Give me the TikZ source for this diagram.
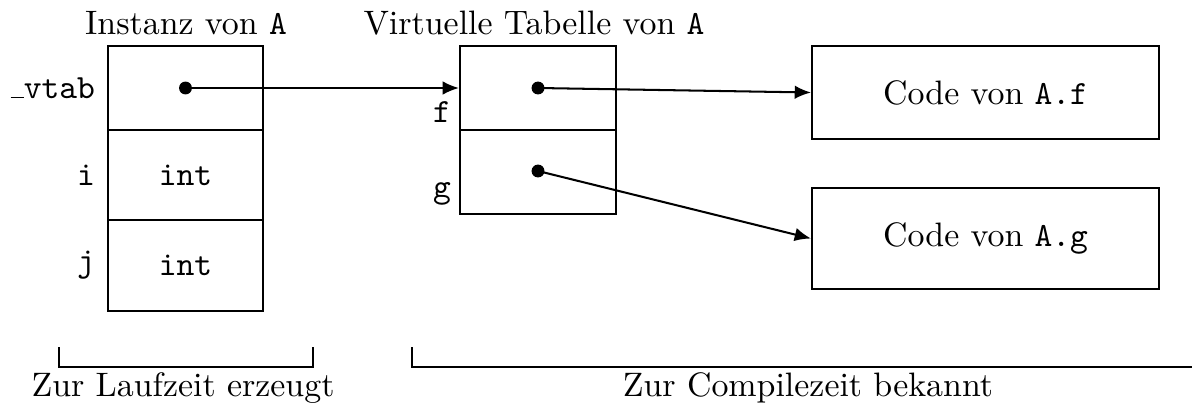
\documentclass[tikz,border=0pt]{standalone}
\usetikzlibrary{arrows.meta}
\begin{document}
\begin{tikzpicture}[x=0.295pt,y=-0.295pt,
  line width=0.6pt,
  cell/.style={draw,rectangle,inner sep=0pt,line width=0.6pt},
  lbl/.style={inner sep=0pt},
  dotc/.style={circle,fill,inner sep=0pt,minimum size=3.8pt},
  ptr/.style={-{Latex[length=4.8pt,width=4pt]},line width=0.6pt},
  brk/.style={line width=0.6pt}]
\useasboundingbox (0,0) rectangle (1192,408);
% titles
\node[lbl,anchor=base] (t1) at (186,35) {Instanz von \texttt{A}};
\node[lbl,anchor=base] (t2) at (534,35) {Virtuelle Tabelle von \texttt{A}};
% instance cells
\node[cell,minimum width=155*0.295pt,minimum height=84*0.295pt] (a1) at (185.5,88) {};
\node[cell,minimum width=155*0.295pt,minimum height=90*0.295pt] (a2) at (185.5,175) {\texttt{int}};
\node[cell,minimum width=155*0.295pt,minimum height=91*0.295pt] (a3) at (185.5,265.5) {\texttt{int}};
\node[lbl,anchor=east] (la1) at ([xshift=-11*0.295pt]a1.west) {\rule{3.9pt}{0.4pt}\texttt{vtab}};
\node[lbl,anchor=east] (la2) at ([xshift=-11*0.295pt]a2.west) {\texttt{i}};
\node[lbl,anchor=east] (la3) at ([xshift=-11*0.295pt]a3.west) {\texttt{j}};
% vtable cells
\node[cell,minimum width=156*0.295pt,minimum height=84*0.295pt] (v1) at (538,88) {};
\node[cell,minimum width=156*0.295pt,minimum height=84*0.295pt] (v2) at (538,172) {};
\node[lbl,anchor=base east] (lf) at (452,122) {\texttt{f}};
\node[lbl,anchor=base east] (lg) at (452,197) {\texttt{g}};
% code boxes
\node[cell,minimum width=347*0.295pt,minimum height=93*0.295pt] (cf) at (985.5,92.5) {Code von \texttt{A.f}};
\node[cell,minimum width=347*0.295pt,minimum height=101*0.295pt] (cg) at (985.5,238.5) {Code von \texttt{A.g}};
% dots
\node[dotc] (d0) at (a1.center) {};
\node[dotc] (d1) at (v1.center) {};
\node[dotc] (d2) at (538,171) {};
% pointers
\draw[ptr] (d0.center) -- (v1.west);
\draw[ptr] (d1.center) -- (cf.west);
\draw[ptr] (d2.center) -- (cg.west);
% brackets
\coordinate (b1a) at (59,347);
\coordinate (b1b) at (59,367);
\coordinate (b1c) at (313,367);
\coordinate (b1d) at (313,347);
\draw[brk] (b1a) -- (b1b) -- (b1c) -- (b1d);
\coordinate (b2a) at (412,347);
\coordinate (b2b) at (412,367);
\coordinate (b2c) at (1204,367);
\coordinate (b2d) at (1204,347);
\draw[brk] (b2a) -- (b2b) -- (b2c) -- (b2d);
\node[lbl,anchor=base] (z1) at (183,396) {Zur Laufzeit erzeugt};
\node[lbl,anchor=base] (z2) at (808,396) {Zur Compilezeit bekannt};
\end{tikzpicture}
\end{document}
